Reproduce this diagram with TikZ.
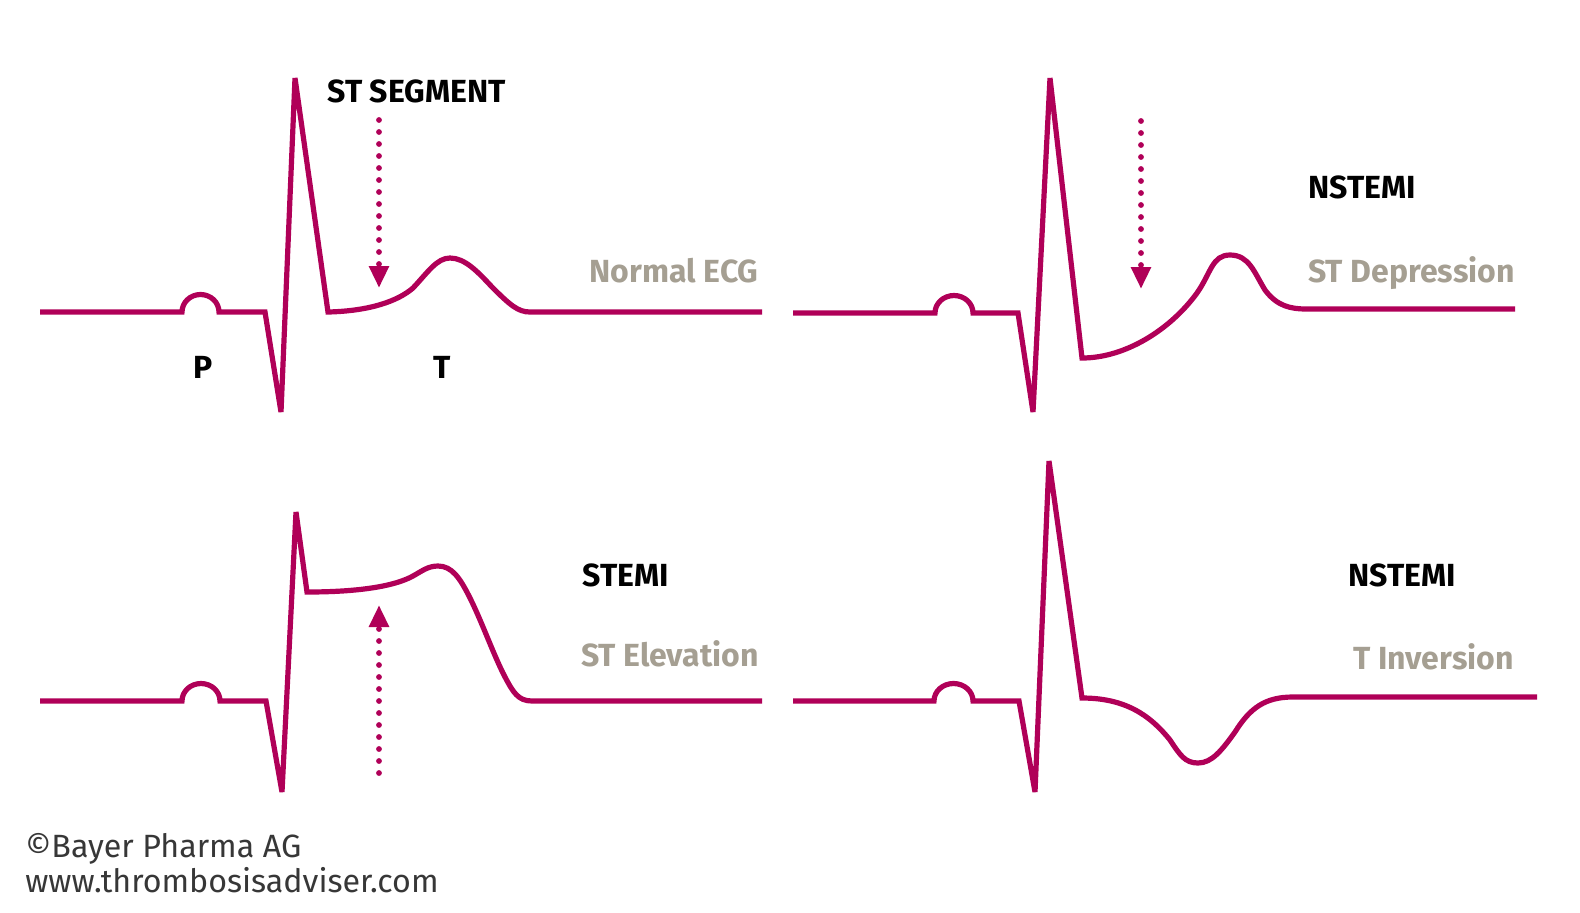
\documentclass[tikz,border=0pt]{standalone}
\usepackage{fontspec}
\setmainfont{Fira Sans}
\usetikzlibrary{arrows.meta}
\definecolor{ecg}{RGB}{176,0,88}
\definecolor{lbl}{RGB}{165,159,146}
\definecolor{foot}{RGB}{55,55,55}
\begin{document}
\begin{tikzpicture}[x=0.5pt,y=-0.5pt,
  trace/.style={draw=ecg,line width=2.6pt,line join=miter,miter limit=6},
  starrow/.style={draw=ecg,line width=2.9pt,line cap=round,dash pattern=on 0pt off 6pt,
    -{Triangle[width=9.5pt,length=11pt,fill=ecg]}},
  blk/.style={inner sep=0pt,font=\fontsize{16pt}{19pt}\selectfont\bfseries,text=black},
  gry/.style={inner sep=0pt,font=\fontsize{16pt}{19pt}\selectfont\bfseries,text=lbl},
  ftr/.style={inner sep=0pt,font=\fontsize{16.1pt}{19pt}\selectfont,text=foot}]
\useasboundingbox (0,0) rectangle (1580,912);
\fill[white] (0,0) rectangle (1580,912);

% ---- Panel 1: Normal ECG
\draw[trace] (40,312) -- (182,312)
  arc[start angle=180,end angle=360,x radius=18.5,y radius=17.5]
  -- (265,312) -- (281,412) -- (295,78) -- (328,312)
  .. controls (370,311) and (398,301) .. (413,288)
  .. controls (428,272) and (437,258) .. (450,258)
  .. controls (465,258) and (478,272) .. (492,287)
  .. controls (510,305) and (518,312) .. (530,312) -- (762,312);
\coordinate (a1s) at (379,120);
\coordinate (a1e) at (379,288);
\draw[starrow] (a1s) -- (a1e);
\node[blk,anchor=base west] (stseg) at (327,102) {ST SEGMENT};
\node[blk,anchor=base] (pl) at (203,378) {P};
\node[blk,anchor=base] (tl) at (442,378) {T};
\node[gry,anchor=base east] (norm) at (759,282) {Normal ECG};

% ---- Panel 2: ST depression
\draw[trace] (793,313) -- (935,313)
  arc[start angle=180,end angle=360,x radius=19,y radius=17.5]
  -- (1018,313) -- (1033,412) -- (1050,78) -- (1082,358)
  .. controls (1125,358) and (1170,330) .. (1197,293)
  .. controls (1211,273) and (1212,255) .. (1230,255)
  .. controls (1249,255) and (1254,272) .. (1265,290)
  .. controls (1277,306) and (1290,309) .. (1307,309) -- (1515,309);
\coordinate (a2s) at (1141,121);
\coordinate (a2e) at (1141,289);
\draw[starrow] (a2s) -- (a2e);
\node[blk,anchor=base west] (nst1) at (1308,198) {NSTEMI};
\node[gry,anchor=base east] (dep) at (1515,282) {ST Depression};

% ---- Panel 3: ST elevation
\draw[trace] (40,701) -- (182,701)
  arc[start angle=180,end angle=360,x radius=19,y radius=17.5]
  -- (266,701) -- (282,792) -- (296,512) -- (307,592)
  .. controls (360,592) and (395,586) .. (413,576)
  .. controls (422,571) and (428,566) .. (438,566)
  .. controls (452,566) and (460,578) .. (470,598)
  .. controls (482,622) and (494,656) .. (505,677)
  .. controls (513,692) and (518,701) .. (532,701) -- (762,701);
\coordinate (a3s) at (379,773);
\coordinate (a3e) at (379,605);
\draw[starrow] (a3s) -- (a3e);
\node[blk,anchor=base west] (stemi) at (582,586) {STEMI};
\node[gry,anchor=base east] (elev) at (759,666) {ST Elevation};

% ---- Panel 4: T inversion
\draw[trace] (793,701) -- (934,701)
  arc[start angle=180,end angle=360,x radius=19.5,y radius=17.5]
  -- (1019,701) -- (1035,792) -- (1049,461) -- (1082,698)
  .. controls (1125,698) and (1150,715) .. (1170,740)
  .. controls (1180,755) and (1185,763) .. (1198,763)
  .. controls (1212,763) and (1222,750) .. (1235,732)
  .. controls (1250,708) and (1265,697) .. (1293,697) -- (1537,697);
\node[blk,anchor=base west] (nst2) at (1348,586) {NSTEMI};
\node[gry,anchor=base east] (tinv) at (1514,669) {T Inversion};

% ---- footer
\node[ftr,anchor=base west] (f1) at (25,857) {©Bayer Pharma AG};
\node[ftr,anchor=base west] (f2) at (25,892) {www.thrombosisadviser.com};
\end{tikzpicture}
\end{document}
